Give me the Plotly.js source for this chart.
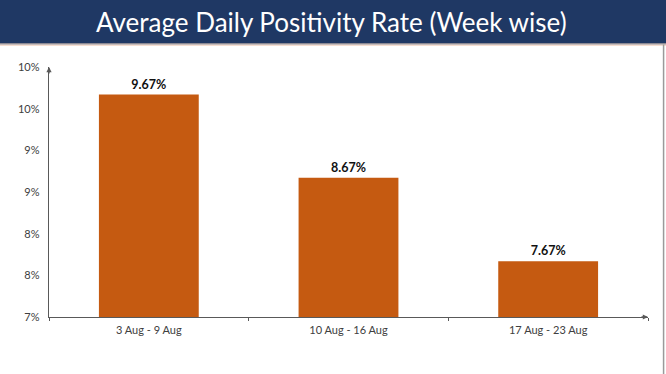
<!DOCTYPE html>
<html>
<head>
<meta charset="utf-8">
<script src="https://cdn.plot.ly/plotly-3.0.1.min.js"></script>
<style>
html,body{margin:0;padding:0;background:#fff;}
#chart{width:666px;height:374px;}
</style>
</head>
<body>
<div id="chart"></div>
<script>
const weeks = ["3 Aug - 9 Aug", "10 Aug - 16 Aug", "17 Aug - 23 Aug"];
const positivityRate = [9.67, 8.67, 7.67];
const yTickValues = [7, 7.5, 8, 8.5, 9, 9.5, 10];
const yTickLabels = ["7%", "8%", "8%", "9%", "9%", "10%", "10%"];
const chartTitle = "Average Daily Positivity Rate (Week wise)";

const trace = {
  type: "bar",
  x: weeks,
  y: positivityRate,
  marker: {color: "#C55A11"},
  text: positivityRate.map(v => v.toFixed(2) + "%"),
  textposition: "outside",
  textfont: {family: "Lato, 'Liberation Sans', sans-serif", size: 12.5, color: "#111", weight: "bold"},
  cliponaxis: false,
  hoverinfo: "skip"
};

const layout = {
  width: 666, height: 374,
  margin: {l: 49, r: 18, t: 67, b: 57},
  paper_bgcolor: "#fff",
  plot_bgcolor: "#fff",
  bargap: 0.5,
  showlegend: false,
  font: {family: "Lato, 'Liberation Sans', sans-serif", color: "#404040", size: 11},
  xaxis: {
    type: "category",
    showgrid: false,
    zeroline: false,
    showline: true,
    linecolor: "#595959",
    linewidth: 1.3,
    ticks: "outside",
    tickson: "boundaries",
    ticklen: 3,
    tickcolor: "#595959",
    ticklabelstandoff: 2,
    tickfont: {size: 11, color: "#404040"},
    fixedrange: true
  },
  yaxis: {
    range: [7, 10],
    tickvals: yTickValues,
    ticktext: yTickLabels,
    showgrid: false,
    zeroline: false,
    showline: true,
    linecolor: "#595959",
    linewidth: 1.3,
    ticks: "",
    ticklabelstandoff: 6,
    tickfont: {size: 11, color: "#404040"},
    fixedrange: true
  },
  shapes: [
    {type: "rect", xref: "paper", yref: "paper", x0: -0.1, x1: 1.05, y0: 1.094, y1: 1.3,
     fillcolor: "#1F3864", line: {width: 0}, layer: "below"},
    {type: "line", xref: "paper", yref: "paper", x0: -0.1, x1: 1.05, y0: 1.092, y1: 1.092,
     line: {color: "#8c7a78", width: 1.2}},
    {type: "line", xref: "paper", yref: "paper", x0: -0.1, x1: 1.05, y0: 1.086, y1: 1.086,
     line: {color: "#f6ddd0", width: 1}},
    {type: "line", xref: "paper", yref: "paper", x0: 1.026, x1: 1.026, y0: -0.25, y1: 1.09,
     line: {color: "#9a9a9a", width: 1.5}}
  ],
  annotations: [
    {text: chartTitle, xref: "paper", yref: "paper", x: 0.471, y: 1.182,
     showarrow: false, xanchor: "center", yanchor: "middle",
     font: {family: "Lato, 'Open Sans', sans-serif", size: 26, color: "#ffffff"}},
    {text: "", xref: "paper", yref: "paper", x: 0, y: 1, ax: 0, ay: 8,
     showarrow: true, arrowhead: 2, arrowsize: 0.8, arrowwidth: 1.3, arrowcolor: "#595959"},
    {text: "", xref: "paper", yref: "paper", x: 1, y: 0, ax: -8, ay: 0,
     showarrow: true, arrowhead: 2, arrowsize: 0.8, arrowwidth: 1.3, arrowcolor: "#595959"}
  ]
};

Plotly.newPlot("chart", [trace], layout, {staticPlot: true, displayModeBar: false});
</script>
</body>
</html>
